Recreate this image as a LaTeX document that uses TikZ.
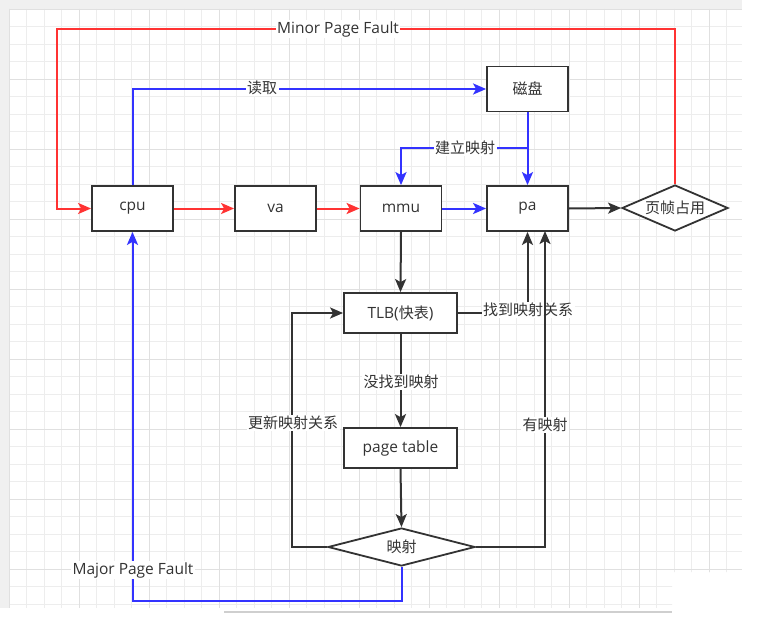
\documentclass[tikz,border=0pt]{standalone}
\usepackage{fontspec}
\setmainfont{Open Sans}
\newfontfamily\cjk{Noto Sans CJK SC}
\usetikzlibrary{arrows.meta,shapes.geometric}
\definecolor{myred}{HTML}{FF3333}
\definecolor{myblue}{HTML}{3333FF}
\definecolor{mydark}{HTML}{333333}
\definecolor{gridminor}{HTML}{EDEDED}
\definecolor{gridmajor}{HTML}{E0E0E0}
\definecolor{edgegray}{HTML}{F0F0F0}
\definecolor{bargray}{HTML}{CFCFCF}
\newcommand{\zh}[1]{{\cjk\fontsize{15}{17}\selectfont #1}}
\begin{document}
\begin{tikzpicture}[x=1pt,y=-1pt,
  font=\fontsize{15.5}{18}\selectfont, text=mydark,
  box/.style={draw=mydark, line width=1.8pt, fill=white, minimum width=81pt, minimum height=45pt, inner sep=0pt},
  wbox/.style={box, minimum width=113pt, minimum height=40pt},
  dia/.style={diamond, aspect=2.3, draw=mydark, line width=1.8pt, fill=white, inner sep=0pt},
  tip/.style={-{Stealth[length=13pt,width=11pt,inset=3pt]}},
  rline/.style={draw=myred, line width=2pt},
  bline/.style={draw=myblue, line width=2pt},
  kline/.style={draw=mydark, line width=2pt},
  lbl/.style={fill=white, inner sep=1.5pt, text=mydark}]
% canvas
\useasboundingbox (0,0) rectangle (758,618);
\fill[white] (0,0) rectangle (758,618);
\fill[edgegray] (0,0) rectangle (742,9);
\fill[edgegray] (0,0) rectangle (9,608);
\begin{scope}
  \clip (9,9) -- (742,9) -- (742,572) -- (672,572) -- (672,608) -- (9,608) -- cycle;
  \foreach \i in {0,...,42} {
    \draw[gridminor, line width=0.8pt] ({9+17.5*\i},9) -- ({9+17.5*\i},608);
  }
  \foreach \j in {0,...,34} {
    \draw[gridminor, line width=0.8pt] (9,{9+17.5*\j}) -- (742,{9+17.5*\j});
  }
  \foreach \i in {0,4,...,40} {
    \draw[gridmajor, line width=0.8pt] ({9+17.5*\i},9) -- ({9+17.5*\i},608);
  }
  \foreach \j in {0,4,...,32} {
    \draw[gridmajor, line width=0.8pt] (9,{9+17.5*\j}) -- (742,{9+17.5*\j});
  }
\end{scope}
\draw[bargray, line width=2.5pt] (224,612) -- (672,612);

% nodes
\node[box] (cpu) at (132.5,208.5) {cpu};
\node[box] (va) at (275.5,208.5) {va};
\node[box] (mmu) at (401,208.5) {mmu};
\node[box] (pa) at (527.5,208.5) {pa};
\node[box] (disk) at (527.5,89) {\zh{磁盘}};
\node[dia, minimum width=106pt, minimum height=46pt] (frame) at (675,208) {\zh{页帧占用}};
\node[wbox] (tlb) at (400.5,313) {TLB(\zh{快表})};
\node[wbox] (pt) at (400.5,448) {page table};
\node[dia, minimum width=147pt, minimum height=38pt] (map) at (401.5,547) {\zh{映射}};

% helper coordinates
\coordinate (mpf) at (57,29);
\coordinate (br) at (527.5,148);
\coordinate (ul) at (292,313);
\coordinate (pa2) at (545,231);
\coordinate (mj) at (132.5,601);

% red edges
\draw[rline, tip] (frame.north) |- (mpf) |- (cpu.west);
\node[lbl] (lminor) at (338,29) {Minor Page Fault};
\draw[rline, tip] (cpu.east) -- (va.west);
\draw[rline, tip] (va.east) -- (mmu.west);

% blue edges
\draw[bline, tip] (cpu.north) |- (disk.west);
\node[lbl] (lread) at (262,88) {\zh{读取}};
\draw[bline, tip] (disk.south) -- (pa.north);
\draw[bline, tip] (br) -| (mmu.north);
\node[lbl] (lbuild) at (465,148) {\zh{建立映射}};
\draw[bline, tip] (mmu.east) -- (pa.west);
\draw[bline, tip] (map.south) |- (mj) -- (cpu.south);
\node[lbl] (lmajor) at (133,570) {Major Page Fault};

% black edges
\draw[kline, tip] (pa.east) -- (frame.west);
\draw[kline, tip] (mmu.south) -- (tlb.north);
\draw[kline, tip] (tlb.east) -| (pa.south);
\node[lbl] (lfound) at (528,310) {\zh{找到映射关系}};
\draw[kline, tip] (tlb.south) -- (pt.north);
\node[lbl] (lnot) at (401,382) {\zh{没找到映射}};
\draw[kline, tip] (pt.south) -- (map.north);
\draw[kline, tip] (map.west) -| (ul) -- (tlb.west);
\node[lbl] (lupd) at (293,423) {\zh{更新映射关系}};
\draw[kline, tip] (map.east) -| (pa2);
\node[lbl] (lhas) at (545,425) {\zh{有映射}};
\end{tikzpicture}
\end{document}
